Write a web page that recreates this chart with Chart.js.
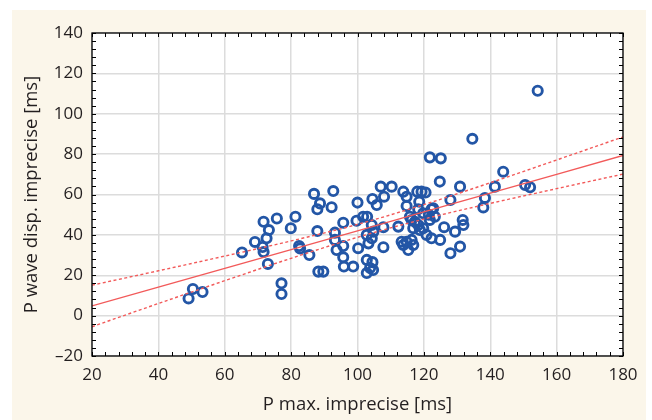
<!DOCTYPE html>
<html>
<head>
<meta charset="utf-8">
<script src="https://cdn.jsdelivr.net/npm/chart.js@4/dist/chart.umd.min.js"></script>
<style>
  html, body { margin: 0; padding: 0; background: #ffffff; }
  #wrap { width: 652px; height: 420px; position: relative; }
</style>
</head>
<body>
<div id="wrap"><canvas id="chart" width="652" height="420"></canvas></div>
<script>
// P max. imprecise [ms] (x) and P wave dispersion imprecise [ms] (y), one entry per patient
const pMax = [
  49.1, 50.4, 53.3, 65.2, 69.1, 71.7, 73.3, 72.6, 71.4, 71.7,
  73.0, 75.7, 77.1, 77.1, 79.9, 81.3, 82.4, 82.7, 85.5, 86.9,
  88.7, 87.9, 87.9, 88.2, 89.7, 92.7, 92.2, 93.2, 93.2, 93.7,
  95.7, 95.7, 95.7, 95.9, 98.7, 99.7, 100.0, 100.2, 101.7, 102.9,
  102.8, 104.5, 103.8, 104.7, 102.8, 104.3, 104.8, 102.8, 104.3, 103.3,
  104.5, 105.8, 107.0, 110.3, 108.0, 113.8, 114.8, 114.8, 118.0, 119.3,
  120.5, 118.6, 118.3, 119.8, 121.5, 122.3, 124.8, 107.8, 112.3, 115.8,
  116.3, 117.3, 116.8, 118.3, 118.8, 121.8, 123.3, 120.8, 122.3, 119.8,
  107.8, 113.3, 114.8, 116.3, 113.8, 115.3, 116.8, 121.8, 125.1, 130.9,
  128.0, 122.8, 131.7, 131.9, 126.1, 129.4, 124.9, 130.9, 128.0, 134.6,
  154.3, 143.9, 141.4, 138.4, 137.9, 150.5, 152.0
];
const pDisp = [
  8.5, 13.2, 11.7, 31.3, 36.5, 46.5, 42.4, 38.3, 34.0, 31.5,
  25.6, 48.1, 16.0, 10.7, 43.3, 49.0, 34.5, 33.3, 30.0, 60.3,
  55.6, 52.7, 41.9, 21.8, 21.8, 61.7, 53.7, 41.1, 37.5, 32.5,
  46.0, 34.5, 28.9, 24.3, 24.3, 47.0, 56.0, 33.4, 49.0, 49.0,
  27.6, 26.5, 23.6, 22.6, 21.1, 44.9, 41.6, 40.0, 38.3, 35.8,
  57.8, 54.8, 63.9, 63.9, 58.9, 61.4, 58.9, 54.3, 61.4, 61.4,
  61.0, 56.4, 52.7, 50.7, 50.0, 52.7, 66.4, 43.8, 44.1, 49.0,
  47.4, 46.5, 43.3, 44.9, 42.4, 47.4, 49.0, 40.0, 38.3, 43.3,
  33.9, 36.6, 36.6, 37.5, 35.0, 32.5, 35.0, 78.4, 77.9, 63.9,
  57.3, 53.2, 47.4, 44.9, 43.8, 41.6, 37.5, 34.2, 30.9, 87.6,
  111.4, 71.3, 63.9, 58.3, 53.6, 64.7, 63.6
];

// Fitted regression line and its confidence band
const fitX     = [20, 40, 60, 80, 100, 120, 140, 160, 180];
const fitLine  = [4.8, 14.1, 23.4, 32.7, 42.0, 51.4, 60.7, 70.0, 79.3];
const fitUpper = [15.1, 22.2, 29.5, 37.0, 45.2, 55.0, 65.8, 77.1, 88.5];
const fitLower = [-5.5, 6.0, 17.3, 28.4, 38.8, 47.8, 55.6, 62.9, 70.1];

// Axis ranges and tick spacing
const xRange = [20, 180];
const yRange = [-20, 140];
const majorStep = 20;

const CREAM = '#fbf6ea';
const BLUE = '#2356a6';
const RED = '#f25a5a';
const INK = '#231f20';
const FONT = "'Open Sans', 'Noto Sans', sans-serif";

const toPoints = (xs, ys) => xs.map((x, i) => ({ x: x, y: ys[i] }));

// Cream panel behind the chart, white plot area
const backdrop = {
  id: 'backdrop',
  beforeDraw(chart) {
    const c = chart.ctx, a = chart.chartArea;
    c.save();
    c.fillStyle = '#ffffff';
    c.fillRect(0, 0, chart.width, chart.height);
    c.fillStyle = CREAM;
    c.fillRect(12, 10, 634, 410);
    c.fillStyle = '#ffffff';
    c.fillRect(a.left, a.top, a.width, a.height);
    c.restore();
  }
};

// Black frame with small inward ticks on all four sides
const frame = {
  id: 'frame',
  afterDraw(chart) {
    const c = chart.ctx, a = chart.chartArea;
    const xs = chart.scales.x, ys = chart.scales.y;
    const len = 4;
    c.save();
    c.strokeStyle = '#000000';
    c.lineWidth = 1.3;
    c.strokeRect(a.left, a.top, a.width, a.height);
    c.lineWidth = 1;
    c.beginPath();
    const minor = majorStep / 5;
    for (let v = xRange[0]; v <= xRange[1] + 1e-9; v += minor) {
      const px = Math.round(xs.getPixelForValue(v)) + 0.5;
      c.moveTo(px, a.bottom); c.lineTo(px, a.bottom - len);
      c.moveTo(px, a.top); c.lineTo(px, a.top + len);
    }
    for (let v = yRange[0]; v <= yRange[1] + 1e-9; v += minor) {
      const py = Math.round(ys.getPixelForValue(v)) + 0.5;
      c.moveTo(a.left, py); c.lineTo(a.left + len, py);
      c.moveTo(a.right, py); c.lineTo(a.right - len, py);
    }
    c.stroke();
    c.restore();
  }
};

const bandStyle = {
  type: 'line',
  borderColor: RED,
  borderWidth: 1.4,
  borderDash: [3, 2.5],
  pointRadius: 0,
  fill: false,
  cubicInterpolationMode: 'monotone',
  order: 0
};

new Chart(document.getElementById('chart'), {
  type: 'scatter',
  data: {
    datasets: [
      {
        type: 'line',
        data: toPoints(fitX, fitLine),
        borderColor: RED,
        borderWidth: 1.4,
        pointRadius: 0,
        fill: false,
        order: 0
      },
      Object.assign({ data: toPoints(fitX, fitUpper) }, bandStyle),
      Object.assign({ data: toPoints(fitX, fitLower) }, bandStyle),
      {
        type: 'scatter',
        data: toPoints(pMax, pDisp),
        pointStyle: 'circle',
        pointRadius: 4.6,
        pointBorderWidth: 2.9,
        borderColor: BLUE,
        backgroundColor: 'rgba(0,0,0,0)',
        order: 1
      }
    ]
  },
  options: {
    responsive: false,
    animation: false,
    events: [],
    layout: { padding: { left: 12, top: 33, right: 29, bottom: 0 } },
    plugins: { legend: { display: false }, tooltip: { enabled: false } },
    scales: {
      x: {
        type: 'linear',
        min: xRange[0], max: xRange[1],
        afterFit(s) { s.height = 64; },
        ticks: {
          stepSize: majorStep,
          padding: 9,
          color: INK,
          font: { family: FONT, size: 17 }
        },
        grid: { color: '#dcdcdc', lineWidth: 1.5, drawTicks: false },
        border: { display: false },
        title: {
          display: true,
          text: 'P max. imprecise [ms]',
          color: INK,
          font: { family: FONT, size: 18.5 },
          padding: { top: 0, bottom: 4 }
        }
      },
      y: {
        type: 'linear',
        min: yRange[0], max: yRange[1],
        afterFit(s) { s.width = 80; },
        ticks: {
          stepSize: majorStep,
          padding: 9,
          color: INK,
          font: { family: FONT, size: 17 },
          callback: (v) => (v < 0 ? '\u2013' + Math.abs(v) : String(v))
        },
        grid: { color: '#dcdcdc', lineWidth: 1.5, drawTicks: false },
        border: { display: false },
        title: {
          display: true,
          text: 'P wave disp. imprecise [ms]',
          color: INK,
          font: { family: FONT, size: 18.5 },
          padding: { top: 9, bottom: 0 }
        }
      }
    }
  },
  plugins: [backdrop, frame]
});
</script>
</body>
</html>
